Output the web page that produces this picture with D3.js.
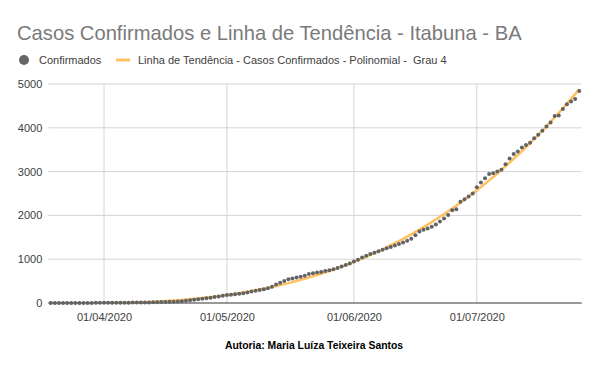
<!DOCTYPE html>
<meta charset="utf-8">
<title>Casos Confirmados - Itabuna - BA</title>
<style>

body {
  margin: 0;
  background: #fff;
}

text {
  font-family: "Liberation Sans", Arial, sans-serif;
}

</style>
<body>
<script src="https://cdn.jsdelivr.net/npm/d3@7"></script>
<script>
// daily series, first day 19/03/2020
var startDate = "2020-03-19";
var confirmados = [
  0, 0, 0, 1, 1, 1, 1, 1, 2, 2, 2, 3, 3,
  4, 4, 5, 5, 6, 7, 8, 9, 10, 11, 12, 14, 16, 18, 20, 23, 26, 30, 35, 40,
  50, 62, 73, 85, 98, 110, 122, 135, 150, 165,
  180, 190, 200, 212, 225, 240, 260, 278, 295, 315, 335, 370, 420, 460, 500, 540,
  560, 580, 600, 625, 660, 680, 695, 710, 730, 750, 770, 800, 835, 865, 900,
  950, 990, 1040, 1080, 1120, 1150, 1180, 1215, 1250, 1280, 1310, 1345, 1380, 1420,
  1465, 1545, 1630, 1670, 1700, 1740, 1790, 1860, 1930, 2010, 2120, 2140, 2310,
  2370, 2430, 2500,
  2640, 2750, 2850, 2945, 2960, 3000, 3040, 3170, 3300, 3400, 3460, 3550, 3610,
  3660, 3760, 3840, 3930, 4030, 4120, 4270, 4280, 4430, 4540, 4600, 4660, 4840
];
var tickDates = ["2020-04-01", "2020-05-01", "2020-06-01", "2020-07-01"];
var tickLabels = ["01/04/2020", "01/05/2020", "01/06/2020", "01/07/2020"];
var yTicks = [0, 1000, 2000, 3000, 4000, 5000];

var w = 600,
    h = 371,
    pLeft = 48.3,
    pRight = 581.7,
    pTop = 84,
    pBottom = 303,
    day = 864e5;

var parse = d3.utcParse("%Y-%m-%d");
var t0 = parse(startDate);

var data = confirmados.map(function(v, i) {
  return {date: new Date(t0.getTime() + i * day), value: v};
});

// axis runs from a bit before the first day to a bit after the last
var x = d3.scaleUtc()
    .domain([new Date(t0.getTime() - 0.6 * day), new Date(t0.getTime() + (confirmados.length - 0.4) * day)])
    .range([pLeft, pRight]);

var y = d3.scaleLinear()
    .domain([0, 5000])
    .range([pBottom, pTop]);

// polynomial trendline, degree 4, least squares on the data
function polyfit(xs, ys, deg) {
  var n = deg + 1, A = [], i, j, k;
  for (i = 0; i < n; i++) {
    A.push([]);
    for (j = 0; j < n; j++) A[i].push(d3.sum(xs, function(t) { return Math.pow(t, i + j); }));
    A[i].push(d3.sum(xs, function(t, m) { return Math.pow(t, i) * ys[m]; }));
  }
  for (i = 0; i < n; i++) {
    var p = i;
    for (k = i + 1; k < n; k++) if (Math.abs(A[k][i]) > Math.abs(A[p][i])) p = k;
    var tmp = A[i]; A[i] = A[p]; A[p] = tmp;
    for (k = i + 1; k < n; k++) {
      var f = A[k][i] / A[i][i];
      for (j = i; j <= n; j++) A[k][j] -= f * A[i][j];
    }
  }
  var c = new Array(n);
  for (i = n - 1; i >= 0; i--) {
    var s = A[i][n];
    for (j = i + 1; j < n; j++) s -= A[i][j] * c[j];
    c[i] = s / A[i][i];
  }
  return c;
}

var half = (confirmados.length - 1) / 2;
var xs = confirmados.map(function(v, i) { return (i - half) / half; });
var coef = polyfit(xs, confirmados, 4);
var trend = data.map(function(d, i) {
  var t = xs[i];
  return {date: d.date, value: coef[0] + coef[1] * t + coef[2] * t * t + coef[3] * t * t * t + coef[4] * t * t * t * t};
});

var svg = d3.select("body").append("svg")
    .attr("width", w)
    .attr("height", h);

svg.append("text")
    .attr("x", 17)
    .attr("y", 40)
    .style("font-size", "20.2px")
    .style("fill", "#7a7a7a")
    .text("Casos Confirmados e Linha de Tendência - Itabuna - BA");

// legend
var legend = svg.append("g").attr("transform", "translate(0,60)");
legend.append("circle").attr("cx", 24).attr("cy", 0).attr("r", 5).attr("fill", "#666");
legend.append("text").attr("x", 39).attr("y", 4).style("font-size", "11px").style("fill", "#404040").text("Confirmados");
legend.append("line").attr("x1", 116).attr("x2", 130).attr("y1", 0).attr("y2", 0)
    .attr("stroke", "#ffc060").attr("stroke-width", 3);
legend.append("text").attr("x", 138).attr("y", 4).style("font-size", "11px").style("fill", "#404040")
    .attr("xml:space", "preserve")
    .text("Linha de Tendência - Casos Confirmados - Polinomial -  Grau 4");

// gridlines
svg.append("g")
  .selectAll("line")
    .data(yTicks.slice(1))
  .enter().append("line")
    .attr("x1", pLeft).attr("x2", pRight)
    .attr("y1", y).attr("y2", y)
    .attr("stroke", "#d4d4d4");

svg.append("g")
  .selectAll("line")
    .data(tickDates)
  .enter().append("line")
    .attr("x1", function(d) { return x(parse(d)); })
    .attr("x2", function(d) { return x(parse(d)); })
    .attr("y1", pTop).attr("y2", pBottom)
    .attr("stroke", "#d4d4d4");

// y labels
var yAxis = svg.append("g")
    .attr("transform", "translate(" + (pLeft - 6) + ",0)")
    .call(d3.axisLeft(y).tickValues(yTicks).tickSize(0).tickPadding(0).tickFormat(d3.format("d")));
yAxis.select(".domain").remove();
yAxis.selectAll("text").style("font-size", "11px").style("fill", "#404040")
    .style("font-family", "\"Liberation Sans\", Arial, sans-serif");

// x labels
var xAxis = svg.append("g")
    .attr("transform", "translate(0," + pBottom + ")")
    .call(d3.axisBottom(x).tickValues(tickDates.map(parse))
      .tickFormat(function(d, i) { return tickLabels[i]; })
      .tickSize(0).tickPadding(10));
xAxis.select(".domain").remove();
xAxis.selectAll("text").style("font-size", "11px").style("fill", "#404040")
    .style("font-family", "\"Liberation Sans\", Arial, sans-serif");

svg.append("defs").append("clipPath").attr("id", "plot")
  .append("rect").attr("x", pLeft).attr("y", pTop - 5).attr("width", pRight - pLeft).attr("height", pBottom - pTop + 5);

svg.append("path")
    .datum(trend)
    .attr("clip-path", "url(#plot)")
    .attr("fill", "none")
    .attr("stroke", "#ffc060")
    .attr("stroke-width", 2.5)
    .attr("d", d3.line()
      .x(function(d) { return x(d.date); })
      .y(function(d) { return y(d.value); }));

svg.append("line")
    .attr("x1", pLeft).attr("x2", pRight)
    .attr("y1", pBottom).attr("y2", pBottom)
    .attr("stroke", "#333")
    .attr("stroke-width", 1.2);

svg.append("g")
  .selectAll("circle")
    .data(data)
  .enter().append("circle")
    .attr("cx", function(d) { return x(d.date); })
    .attr("cy", function(d) { return y(d.value); })
    .attr("r", 2)
    .attr("fill", "#636363");

svg.append("text")
    .attr("x", 314)
    .attr("y", 349)
    .attr("text-anchor", "middle")
    .style("font-size", "10.4px")
    .style("font-weight", "bold")
    .style("fill", "#000")
    .text("Autoria: Maria Luíza Teixeira Santos");
</script>
